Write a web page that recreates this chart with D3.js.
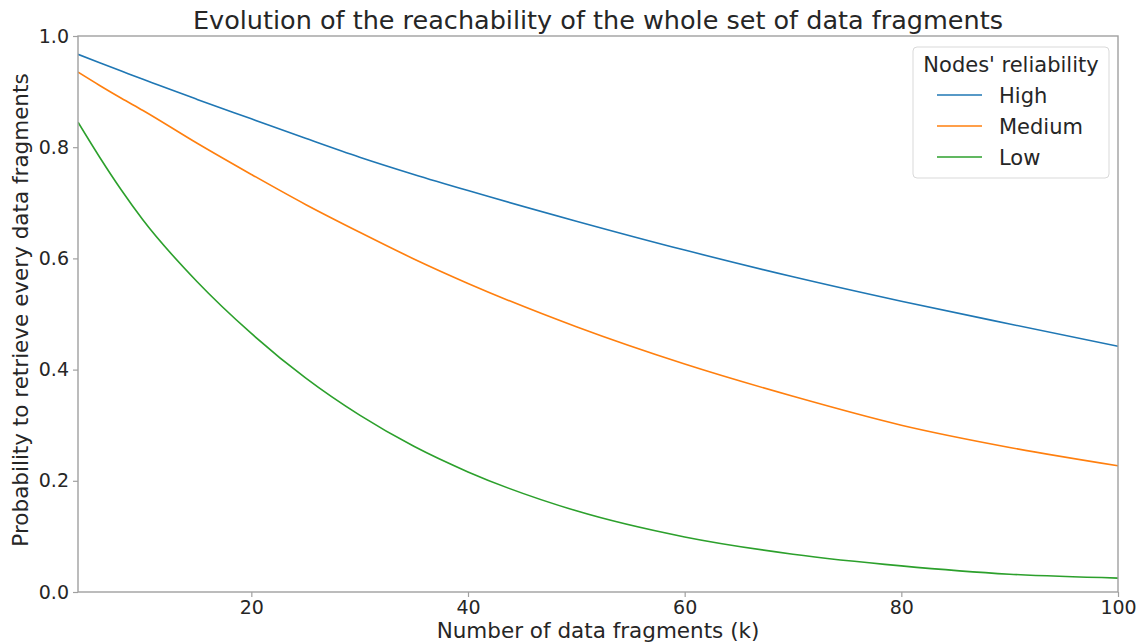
<!DOCTYPE html>
<html>
<head>
<meta charset="utf-8">
<script src="https://cdn.jsdelivr.net/npm/d3@7"></script>
<style>
  html, body { margin: 0; padding: 0; background: #fff; }
  svg { display: block; font-family: "DejaVu Sans", sans-serif; }
</style>
</head>
<body>
<svg id="chart" width="1142" height="642"></svg>
<script>
// Number of data fragments k
const fragments = [4, 6, 8, 10, 15, 20, 25, 30, 35, 40, 50, 60, 70, 80, 90, 100];
// Probability to retrieve every fragment, per node reliability level
const highReliability   = [0.967, 0.952, 0.937, 0.922, 0.886, 0.851, 0.816, 0.782, 0.751, 0.722, 0.667, 0.615, 0.567, 0.523, 0.482, 0.442];
const mediumReliability = [0.935, 0.911, 0.888, 0.866, 0.807, 0.751, 0.697, 0.647, 0.599, 0.555, 0.477, 0.410, 0.352, 0.300, 0.260, 0.227];
const lowReliability    = [0.845, 0.782, 0.723, 0.669, 0.558, 0.465, 0.385, 0.318, 0.262, 0.216, 0.146, 0.099, 0.068, 0.047, 0.032, 0.025];

const seriesNames = ["High", "Medium", "Low"];
const seriesColors = ["#1f77b4", "#ff7f0e", "#2ca02c"];
const xTicks = [20, 40, 60, 80, 100];
const yTicks = [0.0, 0.2, 0.4, 0.6, 0.8, 1.0];

const titleText = "Evolution of the reachability of the whole set of data fragments";
const xLabel = "Number of data fragments (k)";
const yLabel = "Probability to retrieve every data fragments";
const legendTitle = "Nodes' reliability";

const svg = d3.select("#chart");
const margin = { left: 78, right: 24, top: 36, bottom: 50 };
const W = 1142, H = 642;
const plotW = W - margin.left - margin.right;
const plotH = H - margin.top - margin.bottom;

const x = d3.scaleLinear().domain([4, 100]).range([margin.left, margin.left + plotW]);
const y = d3.scaleLinear().domain([0, 1]).range([margin.top + plotH, margin.top]);

const textColor = "#262626";
const spineColor = "#a0a0a0";

// Curves
const series = [highReliability, mediumReliability, lowReliability];
const line = d3.line()
  .x((d, i) => x(fragments[i]))
  .y(d => y(d))
  .curve(d3.curveMonotoneX);

svg.append("defs").append("clipPath").attr("id", "plot-clip")
  .append("rect")
  .attr("x", margin.left).attr("y", margin.top)
  .attr("width", plotW).attr("height", plotH);

svg.append("g").attr("clip-path", "url(#plot-clip)")
  .selectAll("path")
  .data(series)
  .join("path")
  .attr("d", d => line(d))
  .attr("fill", "none")
  .attr("stroke", (d, i) => seriesColors[i])
  .attr("stroke-width", 1.6);

// Axes
const xAxis = svg.append("g")
  .attr("transform", `translate(0,${margin.top + plotH})`)
  .call(d3.axisBottom(x).tickValues(xTicks).tickSize(5).tickPadding(4).tickFormat(d3.format("d")));
const yAxis = svg.append("g")
  .attr("transform", `translate(${margin.left},0)`)
  .call(d3.axisLeft(y).tickValues(yTicks).tickSize(5).tickPadding(4).tickFormat(d3.format(".1f")));

[xAxis, yAxis].forEach(g => {
  g.select(".domain").remove();
  g.selectAll(".tick line").attr("stroke", spineColor).attr("stroke-width", 1.2);
  g.selectAll(".tick text").attr("fill", textColor).style("font-size", "19px")
    .style("font-family", "DejaVu Sans");
});

// Frame around the plot area
svg.append("rect")
  .attr("x", margin.left).attr("y", margin.top)
  .attr("width", plotW).attr("height", plotH)
  .attr("fill", "none").attr("stroke", spineColor).attr("stroke-width", 1.4);

// Title and axis labels
svg.append("text")
  .attr("x", margin.left + plotW / 2).attr("y", 29)
  .attr("text-anchor", "middle")
  .attr("fill", textColor)
  .style("font-size", "25.5px")
  .text(titleText);

svg.append("text")
  .attr("x", margin.left + plotW / 2).attr("y", 638)
  .attr("text-anchor", "middle")
  .attr("fill", textColor)
  .style("font-size", "21.5px")
  .text(xLabel);

svg.append("text")
  .attr("transform", `translate(28,310) rotate(-90)`)
  .attr("text-anchor", "middle")
  .attr("fill", textColor)
  .style("font-size", "21.5px")
  .text(yLabel);

// Legend
const legend = svg.append("g");
legend.append("rect")
  .attr("x", 913).attr("y", 47)
  .attr("width", 196).attr("height", 131)
  .attr("rx", 4)
  .attr("fill", "#fff").attr("fill-opacity", 0.8)
  .attr("stroke", "#d9d9d9").attr("stroke-width", 1);
legend.append("text")
  .attr("x", 1011).attr("y", 72)
  .attr("text-anchor", "middle")
  .attr("fill", textColor)
  .style("font-size", "21px")
  .text(legendTitle);

const entries = legend.selectAll("g.entry")
  .data(seriesNames)
  .join("g")
  .attr("class", "entry")
  .attr("transform", (d, i) => `translate(0,${95 + i * 31})`);
entries.append("line")
  .attr("x1", 937).attr("x2", 982)
  .attr("y1", 0).attr("y2", 0)
  .attr("stroke", (d, i) => seriesColors[i])
  .attr("stroke-width", 1.6);
entries.append("text")
  .attr("x", 999).attr("y", 7.5)
  .attr("fill", textColor)
  .style("font-size", "21px")
  .text(d => d);
</script>
</body>
</html>
